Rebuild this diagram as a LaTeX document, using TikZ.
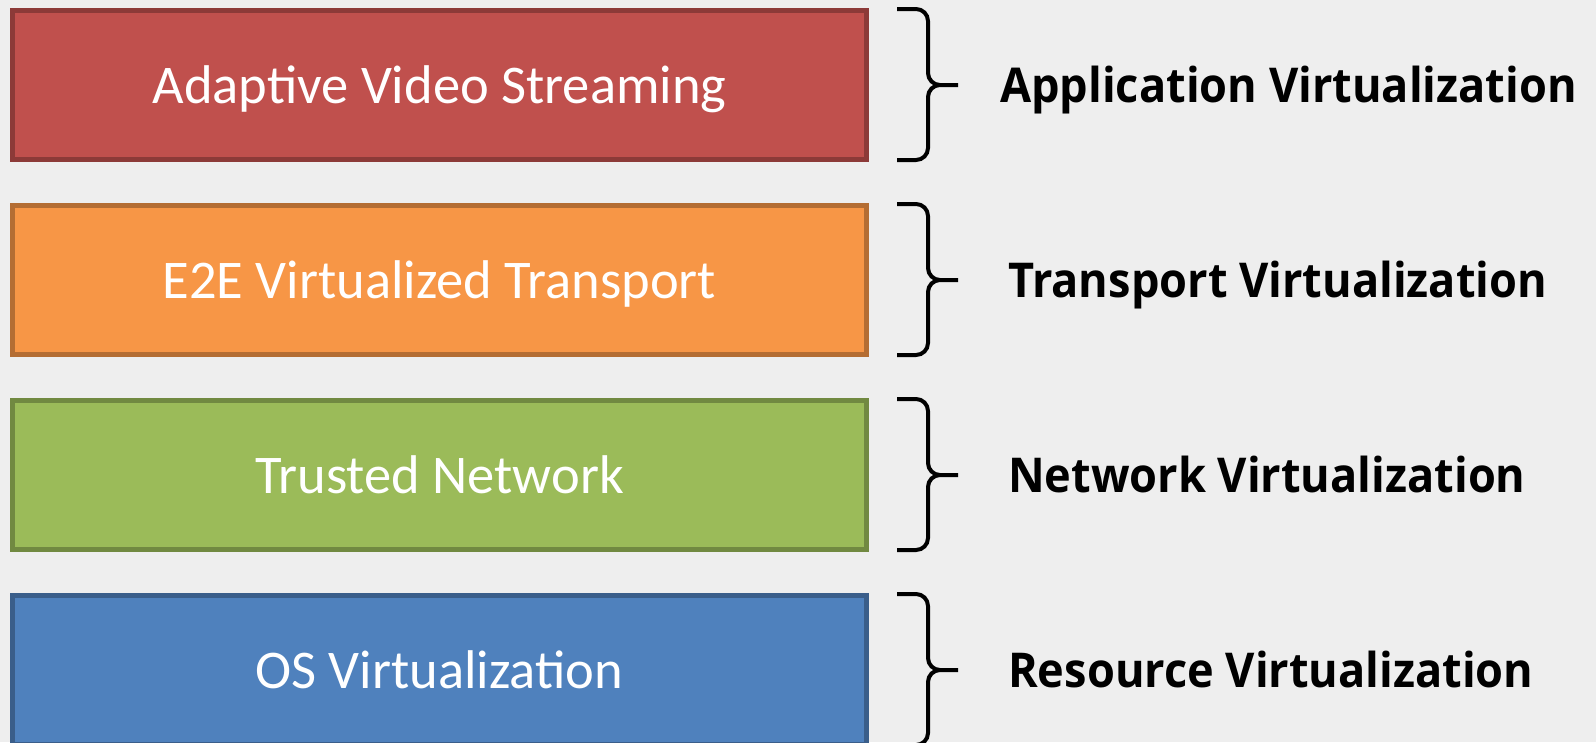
\documentclass[tikz,border=0pt]{standalone}
\usepackage{fontspec}
\setmainfont{Carlito}
\newfontfamily\lblfont[FakeStretch=0.94]{Open Sans}
\usetikzlibrary{decorations.pathreplacing}

\definecolor{bggray}{HTML}{EEEEEE}
\definecolor{appred}{HTML}{C0504D}
\definecolor{trporange}{HTML}{F79646}
\definecolor{netgreen}{HTML}{9BBB59}
\definecolor{resblue}{HTML}{4F81BD}

\begin{document}
\begin{tikzpicture}[x=1pt,y=-1pt,
  layer/.style={draw=#1!73!black, fill=#1, line width=5pt,
    minimum width=854pt, minimum height=149pt, inner sep=0pt,
    text height=36pt, text depth=0pt,
    text=white, font=\fontsize{54.5}{60}\selectfont},
  bracket/.style={line width=4pt, rounded corners=12pt},
  lbl/.style={anchor=west, inner sep=0pt, text height=35pt, text depth=0pt,
    font=\lblfont\bfseries\fontsize{48}{52}\selectfont}]
  \useasboundingbox[fill=bggray] (0,0) rectangle (1596,742);

  % layers, top to bottom, each with its brace and label
  \foreach \n/\c/\t/\l/\dx [count=\i from 0] in {
      app/appred/Adaptive Video Streaming/Application Virtualization/131,
      trp/trporange/E2E Virtualized Transport/Transport Virtualization/139,
      net/netgreen/Trusted Network/Network Virtualization/139,
      res/resblue/OS Virtualization/Resource Virtualization/139} {
    \node[layer=\c] (\n) at (439.5,{85+195*\i}) {\t};
    % brace
    \coordinate (\n-top) at ([xshift=28pt,yshift=-1pt]\n.north east);
    \coordinate (\n-bot) at ([xshift=28pt,yshift=2pt]\n.south east);
    \coordinate (\n-mid) at ([xshift=59pt]\n.east);
    \coordinate (\n-tip) at ([xshift=89pt]\n.east);
    \draw[bracket] (\n-top) -- (\n-top -| \n-mid) -- (\n-mid) -- (\n-tip)
      (\n-tip) -- (\n-mid) -- (\n-bot -| \n-mid) -- (\n-bot);
    \node[lbl] (\n-lbl) at ([xshift=\dx pt]\n.east) {\l};
  }
\end{tikzpicture}
\end{document}
